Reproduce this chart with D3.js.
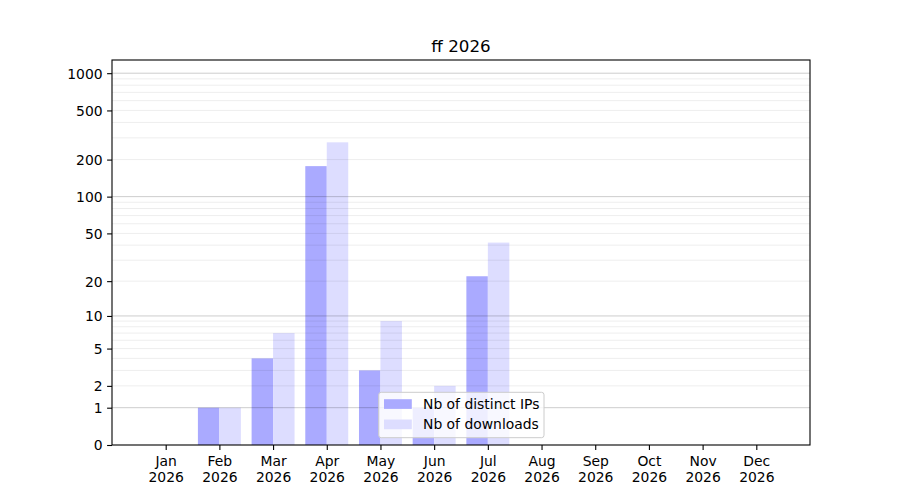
<!DOCTYPE html>
<html>
<head>
<meta charset="utf-8">
<script src="https://cdn.jsdelivr.net/npm/d3@7"></script>
<style>
  html, body { margin: 0; padding: 0; background: #fff; }
  svg { display: block; font-family: "DejaVu Sans", sans-serif; }
</style>
</head>
<body>
<svg id="chart" width="900" height="500"></svg>
<script>
const title = "ff 2026";
const months = ["Jan", "Feb", "Mar", "Apr", "May", "Jun", "Jul", "Aug", "Sep", "Oct", "Nov", "Dec"];
const year = "2026";
const distinctIPs = [0, 1, 4, 177, 3, 1, 22, 0, 0, 0, 0, 0];
const downloads = [0, 1, 7, 276, 9, 2, 42, 0, 0, 0, 0, 0];
const yTickValues = [0, 1, 2, 5, 10, 20, 50, 100, 200, 500, 1000];
const majorGrid = [1, 10, 100, 1000];
const minorGrid = [2,3,4,5,6,7,8,9,20,30,40,50,60,70,80,90,200,300,400,500,600,700,800,900];
const seriesNames = ["Nb of distinct IPs", "Nb of downloads"];
const seriesColors = ["#aaaaff", "#ddddff"];

const svg = d3.select("#chart");
const L = 112, R = 810, T = 60, B = 445;
const x = d3.scaleLinear().domain([-1, 12]).range([L, R]);
const y = d3.scaleSymlog().constant(1).domain([0, 1278]).range([B, T]);
const bw = 0.4;

// bars
const g = svg.append("g");
const series = [distinctIPs, downloads];
series.forEach((vals, s) => {
  g.selectAll(null).data(vals.map((v, i) => ({v, i})).filter(d => d.v > 0))
    .enter().append("rect")
    .attr("x", d => x(d.i + (s === 0 ? -bw : 0)))
    .attr("width", d => x(d.i + bw) - x(d.i))
    .attr("y", d => y(d.v))
    .attr("height", d => B - y(d.v))
    .attr("fill", seriesColors[s]);
});

// grid
svg.append("g").selectAll("line").data(minorGrid).enter().append("line")
  .attr("x1", L).attr("x2", R)
  .attr("y1", d => y(d)).attr("y2", d => y(d))
  .attr("stroke", "#000").attr("stroke-opacity", 0.07).attr("stroke-width", 1);
svg.append("g").selectAll("line").data(majorGrid).enter().append("line")
  .attr("x1", L).attr("x2", R)
  .attr("y1", d => y(d)).attr("y2", d => y(d))
  .attr("stroke", "#000").attr("stroke-opacity", 0.2).attr("stroke-width", 1);

// axes
const yAxis = d3.axisLeft(y).tickValues(yTickValues).tickFormat(d3.format("d"))
  .tickSize(4.9).tickPadding(4.5);
const ya = svg.append("g").attr("transform", `translate(${L},0)`).call(yAxis);
ya.select(".domain").remove();
ya.selectAll("line").attr("stroke", "#000").attr("stroke-width", 1.1);
ya.selectAll("text").attr("font-size", 13.9).attr("fill", "#000")
  .attr("font-family", "DejaVu Sans").attr("dy", "0.35em");

const xAxis = d3.axisBottom(x).tickValues(d3.range(12)).tickFormat(() => "")
  .tickSize(4.9);
const xa = svg.append("g").attr("transform", `translate(0,${B})`).call(xAxis);
xa.select(".domain").remove();
xa.selectAll("line").attr("stroke", "#000").attr("stroke-width", 1.1);
xa.selectAll(".tick").each(function(d) {
  const t = d3.select(this).append("text")
    .attr("text-anchor", "middle").attr("font-size", 13.9).attr("fill", "#000")
    .attr("font-family", "DejaVu Sans");
  t.append("tspan").attr("x", 0).attr("y", 21).text(months[d]);
  t.append("tspan").attr("x", 0).attr("y", 37).text(year);
});

// frame
svg.append("rect").attr("x", L).attr("y", T).attr("width", R - L).attr("height", B - T)
  .attr("fill", "none").attr("stroke", "#000").attr("stroke-width", 1.1);

// title
svg.append("text").attr("x", (L + R) / 2).attr("y", 52).attr("text-anchor", "middle")
  .attr("font-size", 16.7).attr("fill", "#000").text(title);

// legend
const lg = svg.append("g");
lg.append("rect").attr("x", 378.7).attr("y", 392.3).attr("width", 165.3).attr("height", 45.4)
  .attr("rx", 2.5).attr("fill", "#fff").attr("fill-opacity", 0.8)
  .attr("stroke", "#cccccc").attr("stroke-width", 1);
seriesNames.forEach((name, i) => {
  const cy = 404 + i * 20.3;
  lg.append("rect").attr("x", 384).attr("y", cy - 4.8).attr("width", 27.8).attr("height", 9.7)
    .attr("fill", seriesColors[i]);
  lg.append("text").attr("x", 423).attr("y", cy).attr("dy", "0.35em")
    .attr("font-size", 13.9).attr("fill", "#000").text(name);
});
</script>
</body>
</html>
